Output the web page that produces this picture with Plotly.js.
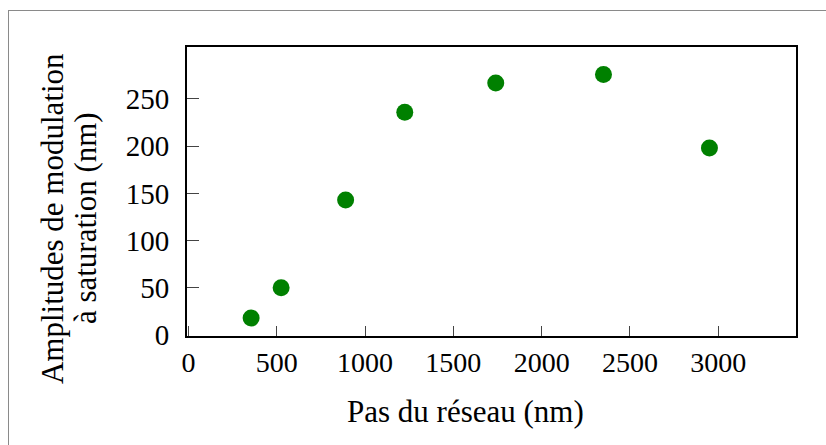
<!DOCTYPE html>
<html>
<head>
<meta charset="utf-8">
<script src="https://cdn.plot.ly/plotly-3.0.1.min.js"></script>
<style>
  html, body { margin: 0; padding: 0; background: #ffffff; }
  #wrap { position: relative; width: 826px; height: 445px; overflow: hidden; }
  #frame { position: absolute; left: 8px; top: 10px; width: 830px; height: 450px;
           border-top: 1.5px solid #8a8a8a; border-left: 1.5px solid #8a8a8a; box-sizing: border-box; }
  #chart { position: absolute; left: 0; top: 0; width: 826px; height: 445px; }
  #fontwarm { position: absolute; left: 620px; top: 20px; font-family: 'Liberation Serif'; font-size: 14px;
              color: #ffffff; pointer-events: none; }
</style>
</head>
<body>
<div id="wrap">
  <div id="chart"></div>
  <div id="frame"></div>
  <div id="fontwarm">Aa 0123456789 é à</div>
</div>
<script>
// Data
const gratingPitch = [355, 525, 890, 1225, 1740, 2350, 2950];        // Pas du réseau (nm)
const saturationAmp = [18, 50, 143, 236, 267, 276, 198];              // Amplitude à saturation (nm)

const xTickVals = [0, 500, 1000, 1500, 2000, 2500, 3000];
const yTickVals = [0, 50, 100, 150, 200, 250];

const xTitle = "Pas du réseau (nm)";
const yTitleLine1 = "Amplitudes de modulation";
const yTitleLine2 = "à saturation (nm)";

const serif = "Liberation Serif";

const trace = {
  x: gratingPitch,
  y: saturationAmp,
  type: "scatter",
  mode: "markers",
  marker: { color: "#008000", size: 17 },
  showlegend: false
};

const layout = {
  width: 826,
  height: 445,
  margin: { l: 187, r: 30, t: 47, b: 109, pad: 0 },
  paper_bgcolor: "rgba(0,0,0,0)",
  plot_bgcolor: "#ffffff",
  font: { family: serif, color: "#000000" },
  xaxis: {
    range: [-8, 3440],
    tickmode: "array",
    tickvals: xTickVals,
    ticks: "inside",
    ticklen: 10,
    tickfont: { family: serif, size: 28 },
    showgrid: false,
    zeroline: false,
    showline: true,
    linecolor: "#000",
    linewidth: 2,
    mirror: true
  },
  yaxis: {
    range: [-1, 305],
    tickmode: "array",
    tickvals: yTickVals,
    ticks: "inside",
    ticklen: 12,
    tickfont: { family: serif, size: 29 },
    ticklabelstandoff: 10,
    showgrid: false,
    zeroline: false,
    showline: true,
    linecolor: "#000",
    linewidth: 2,
    mirror: true
  },
  annotations: [
    {
      text: xTitle,
      xref: "paper", yref: "paper",
      x: 0.458, y: -0.26,
      xanchor: "center", yanchor: "middle",
      showarrow: false,
      font: { family: serif, size: 31 }
    },
    {
      text: yTitleLine1,
      xref: "paper", yref: "paper",
      x: -0.2217, y: 0.408,
      xanchor: "center", yanchor: "middle",
      textangle: -90,
      showarrow: false,
      font: { family: serif, size: 31 }
    },
    {
      text: yTitleLine2,
      xref: "paper", yref: "paper",
      x: -0.1675, y: 0.408,
      xanchor: "center", yanchor: "middle",
      textangle: -90,
      showarrow: false,
      font: { family: serif, size: 31 }
    }
  ]
};

Plotly.newPlot("chart", [trace], layout, { displayModeBar: false, staticPlot: true });
</script>
</body>
</html>
